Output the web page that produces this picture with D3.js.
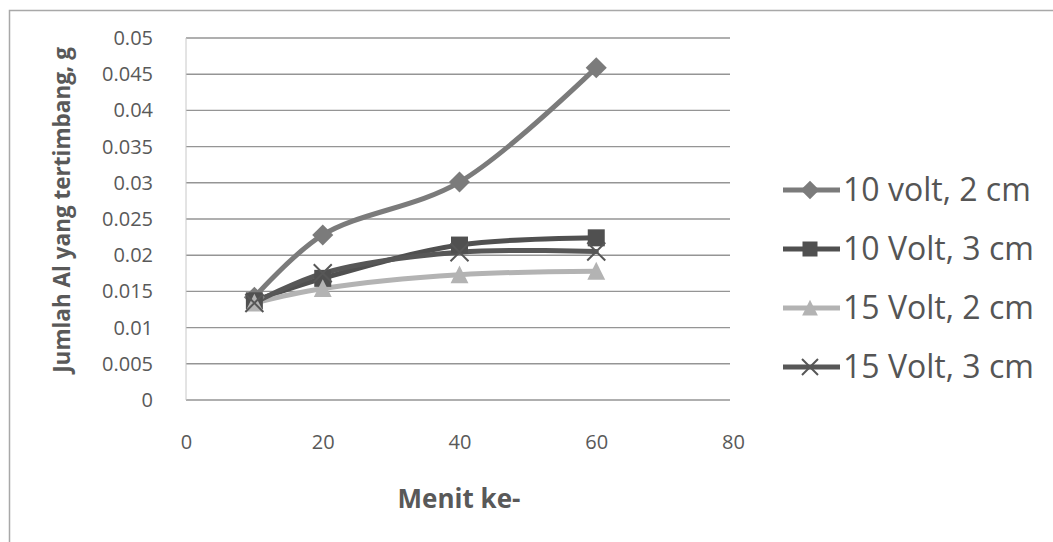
<!DOCTYPE html>
<html>
<head>
<meta charset="utf-8">
<script src="https://cdn.jsdelivr.net/npm/d3@7"></script>
<style>
  body { margin: 0; background: #fff; }
  text { font-family: "Open Sans", sans-serif; }
</style>
</head>
<body>
<div id="chart"></div>
<script>
// data
var minutes = [10, 20, 40, 60];
var v10cm2 = [0.0142, 0.0228, 0.0301, 0.0459];
var v10cm3 = [0.0137, 0.0168, 0.0214, 0.0224];
var v15cm2 = [0.0134, 0.0154, 0.0173, 0.0178];
var v15cm3 = [0.0134, 0.0175, 0.0204, 0.0205];
var seriesNames = ["10 volt, 2 cm", "10 Volt, 3 cm", "15 Volt, 2 cm", "15 Volt, 3 cm"];
var xTicks = [0, 20, 40, 60, 80];
var yTicks = [0, 0.005, 0.01, 0.015, 0.02, 0.025, 0.03, 0.035, 0.04, 0.045, 0.05];

var series = [
  { name: seriesNames[0], values: v10cm2, color: "#7b7b7b", marker: "diamond" },
  { name: seriesNames[1], values: v10cm3, color: "#505050", marker: "square" },
  { name: seriesNames[2], values: v15cm2, color: "#b3b3b3", marker: "triangle" },
  { name: seriesNames[3], values: v15cm3, color: "#575757", marker: "x" }
];

var W = 1053, H = 542;
var margin = { top: 38, left: 186, right: 320, bottom: 142 };
var width = W - margin.left - margin.right,
    height = H - margin.top - margin.bottom;

var svg = d3.select("#chart").append("svg")
    .attr("width", W).attr("height", H);

// outer chart border
svg.append("rect")
    .attr("x", 9.5).attr("y", 10.5)
    .attr("width", W + 20).attr("height", H + 20)
    .attr("fill", "none").attr("stroke", "#a8a8a8").attr("stroke-width", 1.5);

var g = svg.append("g")
    .attr("transform", "translate(" + margin.left + "," + margin.top + ")");

var x = d3.scaleLinear().domain([0, 80]).range([0, width]);
var y = d3.scaleLinear().domain([0, 0.05]).range([height, 0]);

// horizontal gridlines
g.selectAll(".grid").data(yTicks).enter().append("line")
    .attr("x1", 0).attr("x2", x(80) - 3)
    .attr("y1", function(d){ return y(d); })
    .attr("y2", function(d){ return y(d); })
    .attr("stroke", "#959595").attr("stroke-width", 1.4);

// left edge of plot
g.append("line")
    .attr("x1", 0).attr("x2", 0).attr("y1", 0).attr("y2", height)
    .attr("stroke", "#c8c8c8").attr("stroke-width", 1);

// y axis tick labels
var yAxis = d3.axisLeft(y).tickValues(yTicks).tickSize(0).tickPadding(33)
    .tickFormat(function(d){ return d === 0 ? "0" : String(+d.toFixed(3)); });
var yg = g.append("g").call(yAxis);
yg.select(".domain").remove();
yg.attr("font-size", null).attr("font-family", null);
yg.selectAll("text").style("font-size", "20px").attr("fill", "#595959");

// x axis tick labels
var xAxis = d3.axisBottom(x).tickValues(xTicks).tickSize(0).tickPadding(35);
var xg = g.append("g").attr("transform", "translate(0," + height + ")").call(xAxis);
xg.select(".domain").remove();
xg.attr("font-size", null).attr("font-family", null);
xg.selectAll("text").style("font-size", "20px").attr("fill", "#595959");

// axis titles
svg.append("text")
    .attr("transform", "translate(70," + 210 + ") rotate(-90)")
    .attr("text-anchor", "middle")
    .style("font-size", "22.5px").attr("font-weight", "bold").attr("fill", "#595959")
    .text("Jumlah Al yang tertimbang, g");

svg.append("text")
    .attr("x", 459).attr("y", 508)
    .attr("text-anchor", "middle")
    .style("font-size", "26px").attr("font-weight", "bold").attr("fill", "#595959")
    .text("Menit ke-");

function drawMarker(sel, type, color, s) {
  if (type === "diamond") {
    var h = s * 0.62;
    sel.append("path").attr("d", "M0," + (-h) + "L" + h + ",0L0," + h + "L" + (-h) + ",0Z")
      .attr("fill", color);
  } else if (type === "square") {
    sel.append("rect").attr("x", -s / 2).attr("y", -s / 2)
      .attr("width", s).attr("height", s).attr("fill", color);
  } else if (type === "triangle") {
    var t = s / 2;
    sel.append("path").attr("d", "M0," + (-t * 1.1) + "L" + (t * 1.05) + "," + t + "L" + (-t * 1.05) + "," + t + "Z")
      .attr("fill", color);
  } else {
    var k = s / 2;
    sel.append("path").attr("d", "M" + (-k) + "," + (-k) + "L" + k + "," + k + "M" + (-k) + "," + k + "L" + k + "," + (-k))
      .attr("stroke", color).attr("stroke-width", 2).attr("fill", "none");
  }
}

var line = d3.line()
    .x(function(d, i){ return x(minutes[i]); })
    .y(function(d){ return y(d); })
    .curve(d3.curveCatmullRom.alpha(0.5));

series.forEach(function(s){
  g.append("path")
    .attr("d", line(s.values))
    .attr("fill", "none").attr("stroke", s.color)
    .attr("stroke-width", 5).attr("stroke-linecap", "round");
});
series.forEach(function(s){
  s.values.forEach(function(v, i){
    var m = g.append("g").attr("transform", "translate(" + x(minutes[i]) + "," + y(v) + ")");
    drawMarker(m, s.marker, s.color, s.marker === "x" ? 18 : 17);
  });
});

// legend
var legend = svg.append("g").attr("transform", "translate(783,190)");
series.forEach(function(s, i){
  var lg = legend.append("g").attr("transform", "translate(0," + i * 59 + ")");
  lg.append("line").attr("x1", 0).attr("x2", 57).attr("y1", 0).attr("y2", 0)
    .attr("stroke", s.color).attr("stroke-width", 5);
  var m = lg.append("g").attr("transform", "translate(27,0)");
  drawMarker(m, s.marker, s.color, s.marker === "x" ? 16 : 15);
  lg.append("text").attr("x", 60).attr("y", 11)
    .style("font-size", "32px").attr("fill", "#555")
    .text(s.name);
});
</script>
</body>
</html>
